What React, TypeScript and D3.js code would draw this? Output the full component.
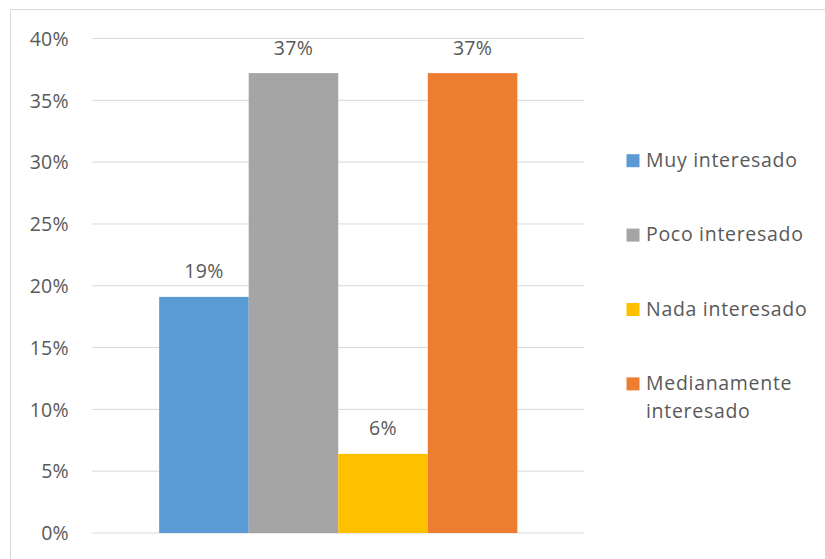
import React from "react";
import * as d3 from "d3";

const categories = ["Muy interesado", "Poco interesado", "Nada interesado", "Medianamente interesado"];
const values = [0.191, 0.372, 0.064, 0.372];
const colors = ["#5B9BD5", "#A5A5A5", "#FFC000", "#ED7D31"];
const yTicks = [0, 0.05, 0.1, 0.15, 0.2, 0.25, 0.3, 0.35, 0.4];
const legendLines = [["Muy interesado"], ["Poco interesado"], ["Nada interesado"], ["Medianamente", "interesado"]];

const W = 825;
const H = 559;
const FONT = "'Open Sans', sans-serif";
const TXT = "#595959";
const FS = 19.5;
const LS = 0.7;

export default function App() {
  const plotLeft = 92;
  const plotRight = 584.5;
  const y = d3.scaleLinear().domain([0, 0.4]).range([533, 38.5]);
  const barW = (plotRight - plotLeft) / (categories.length + 1.5);
  const gx = d3
    .scaleBand()
    .domain(categories)
    .range([plotLeft + barW * 0.75, plotRight - barW * 0.75])
    .padding(0);
  const fmt = d3.format(".0%");

  return (
    <svg width={W} height={H} style={{ position: "absolute", left: 0, top: 0, background: "#fff" }}>
      <rect x={10.5} y={9.5} width={900} height={900} fill="#fff" stroke="#d9d9d9" strokeWidth={1} />
      {yTicks.map((t) => (
        <g key={t}>
          <line x1={plotLeft} x2={plotRight} y1={y(t)} y2={y(t)} stroke="#d9d9d9" strokeWidth={1} />
          <text x={69} y={y(t) + 7.2} textAnchor="end" fontFamily={FONT} fontSize={FS} letterSpacing={0.3} fill={TXT}>
            {fmt(t)}
          </text>
        </g>
      ))}
      {categories.map((c, i) => (
        <g key={c}>
          <rect x={gx(c)} y={y(values[i])} width={gx.bandwidth()} height={y(0) - y(values[i])} fill={colors[i]} />
          <text
            x={(gx(c) as number) + gx.bandwidth() / 2}
            y={y(values[i]) - 18.5}
            textAnchor="middle"
            fontFamily={FONT}
            fontSize={FS}
            letterSpacing={0.3}
            fill={TXT}
          >
            {fmt(values[i])}
          </text>
        </g>
      ))}
      {legendLines.map((lines, i) => {
        const base = 166.7 + i * 74.4;
        return (
          <g key={i}>
            <rect x={626.5} y={base - 12.5} width={13} height={13} fill={colors[i]} />
            {lines.map((l, j) => (
              <text key={j} x={646} y={base + j * 27.7} fontFamily={FONT} fontSize={FS} letterSpacing={LS} fill={TXT}>
                {l}
              </text>
            ))}
          </g>
        );
      })}
    </svg>
  );
}
